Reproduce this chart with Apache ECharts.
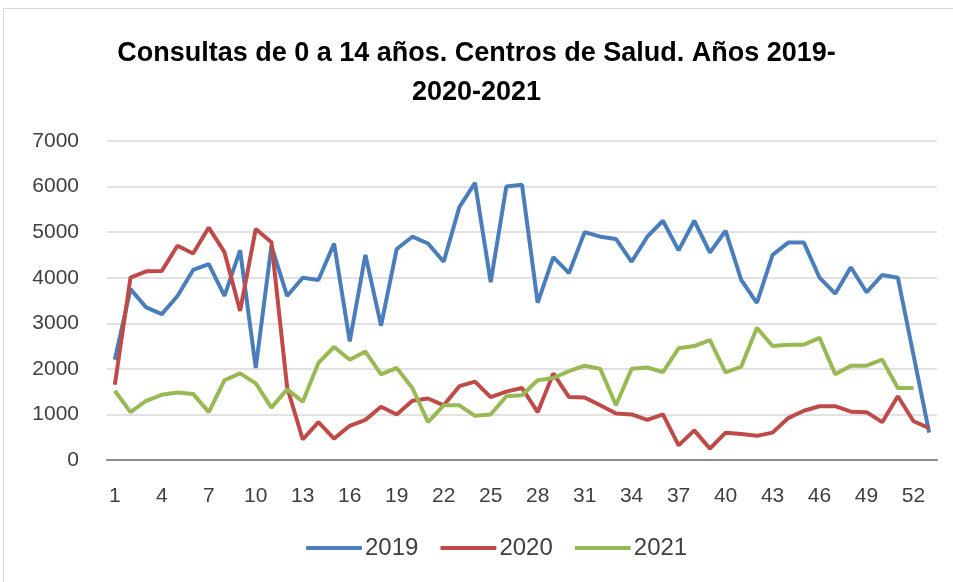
<!DOCTYPE html>
<html>
<head>
<meta charset="utf-8">
<script src="https://cdn.jsdelivr.net/npm/echarts@6/dist/echarts.min.js"></script>
<style>
  html, body { margin: 0; padding: 0; background: #fff; }
  #frame { position: absolute; left: 3px; top: 8px; width: 960px; height: 590px; border: 1px solid #d9d9d9; box-sizing: border-box; }
  #chart { position: absolute; left: 0; top: 0; width: 953px; height: 582px; }
</style>
</head>
<body>
<div id="frame"></div>
<div id="chart"></div>
<script>
  // semanas 1..53
  const weeks = Array.from({ length: 53 }, (_, i) => String(i + 1));

  const data2019 = [2200, 3750, 3350, 3200, 3600, 4170, 4300, 3600, 4600, 2020,
    4700, 3600, 4000, 3950, 4750, 2600, 4500, 2950, 4630, 4900,
    4750, 4350, 5550, 6080, 3900, 6000, 6040, 3450, 4450, 4100,
    5000, 4900, 4850, 4350, 4900, 5250, 4600, 5250, 4550, 5030,
    3950, 3450, 4500, 4770, 4770, 4000, 3650, 4230, 3680, 4060,
    4000, 2300, 600];

  const data2020 = [1650, 4000, 4140, 4150, 4700, 4530, 5100, 4560, 3270, 5070,
    4780, 1600, 450, 830, 470, 750, 880, 1170, 1000, 1300,
    1350, 1200, 1620, 1720, 1380, 1500, 1580, 1050, 1900, 1380,
    1370, 1200, 1020, 1000, 880, 1000, 320, 650, 250, 600,
    570, 530, 600, 920, 1080, 1180, 1180, 1060, 1050, 830,
    1400, 850, 700];

  const data2021 = [1520, 1050, 1300, 1430, 1480, 1450, 1050, 1750, 1900, 1680,
    1150, 1550, 1280, 2130, 2480, 2200, 2380, 1880, 2020, 1580,
    830, 1200, 1200, 970, 1000, 1400, 1420, 1750, 1800, 1950,
    2070, 2000, 1200, 2000, 2030, 1930, 2450, 2500, 2630, 1920,
    2050, 2900, 2500, 2530, 2530, 2680, 1880, 2070, 2070, 2200,
    1580, 1580, null];

  const mychart = echarts.init(document.getElementById('chart'));
  const lbl = { color: '#404040', fontFamily: 'Liberation Sans', fontSize: 21 };

  mychart.setOption({
    animation: false,
    title: {
      text: 'Consultas de 0 a 14 años. Centros de Salud. Años 2019-\n2020-2021',
      left: 'center',
      top: 29,
      textStyle: {
        fontFamily: 'Liberation Sans',
        fontWeight: 'bold',
        fontSize: 27,
        lineHeight: 39,
        color: '#000'
      }
    },
    legend: {
      bottom: 17,
      left: 301,
      itemWidth: 56,
      itemHeight: 4,
      itemGap: 22,
      icon: 'roundRect',
      textStyle: { color: '#404040', fontFamily: 'Liberation Sans', fontSize: 24, padding: [0, 0, 0, -2] },
      data: ['2019', '2020', '2021']
    },
    grid: { left: 107, right: 16, top: 141, bottom: 122 },
    xAxis: {
      type: 'category',
      data: weeks,
      boundaryGap: true,
      axisLine: { lineStyle: { color: '#8c8c8c', width: 2 } },
      axisTick: { show: false },
      axisLabel: Object.assign({ interval: 2, margin: 26 }, lbl)
    },
    yAxis: {
      type: 'value',
      min: 0,
      max: 7000,
      interval: 1000,
      axisLine: { show: false },
      axisTick: { show: false },
      axisLabel: Object.assign({ margin: 28, formatter: v => String(v) }, lbl),
      splitLine: { lineStyle: { color: '#d9d9d9', width: 1.5 } }
    },
    series: [
      { name: '2019', type: 'line', data: data2019, symbol: 'none', color: '#4a7ebb', lineStyle: { width: 4 } },
      { name: '2020', type: 'line', data: data2020, symbol: 'none', color: '#be4b48', lineStyle: { width: 4 } },
      { name: '2021', type: 'line', data: data2021, symbol: 'none', color: '#98b954', lineStyle: { width: 4 } }
    ]
  });
</script>
</body>
</html>
